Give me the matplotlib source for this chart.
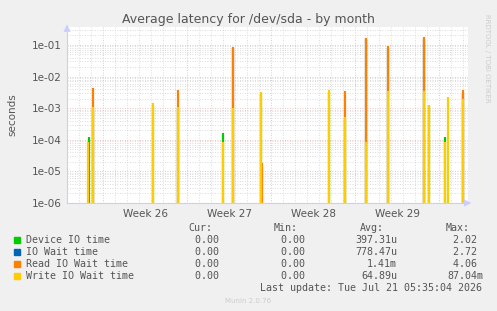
import numpy as np
import matplotlib.pyplot as plt
from matplotlib.ticker import FixedLocator, NullFormatter

# spike times, in days from the start of week 26
t_dev = [-1.14, 4.19, 9.97, 13.19, 18.86, 20.19, 27.19, 28.52]
v_dev = [1.2e-4, 1.2e-3, 1.65e-4, 2.8e-3, 3.2e-3, 4.5e-4, 1.2e-3, 1.2e-4]

t_wait = [-0.81, 6.27, 10.83, 21.94, 23.77, 26.77, 29.97]
v_wait = [1.0e-3, 1.0e-3, 8.0e-2, 0.15, 8.0e-2, 0.15, 3.0e-3]

t_read = [-0.81, 6.27, 10.83, 13.25, 20.19, 21.94, 23.77, 26.77, 29.97]
v_read = [4.4e-3, 3.8e-3, 8.9e-2, 1.8e-5, 3.6e-3, 0.17, 9.5e-2, 0.18, 3.8e-3]

t_write = [-1.25, -0.81, 4.19, 6.27, 9.97, 10.83, 13.19, 18.86, 20.19,
           21.94, 23.77, 26.77, 27.19, 28.52, 28.77, 29.97]
v_write = [8.7e-5, 1.07e-3, 1.45e-3, 1.07e-3, 8.7e-5, 1.0e-3, 3.3e-3, 3.8e-3, 5.4e-4,
           8.7e-5, 3.6e-3, 3.6e-3, 1.26e-3, 8.7e-5, 2.2e-3, 2.0e-3]

weeks = ["Week 26", "Week 27", "Week 28", "Week 29"]

names = ["Device IO time", "IO Wait time", "Read IO Wait time", "Write IO Wait time"]
colors = ["#00cc00", "#0066b3", "#ff8000", "#ffcc00"]
cur = ["0.00 ", "0.00 ", "0.00 ", "0.00 "]
mins = ["0.00 ", "0.00 ", "0.00 ", "0.00 "]
avgs = ["397.31u", "778.47u", "1.41m", "64.89u"]
maxs = ["2.02 ", "2.72 ", "4.06 ", "87.04m"]

W, H = 497, 311
fig = plt.figure(figsize=(W / 100, H / 100), dpi=100, facecolor="#f0f0f0")
ax = fig.add_axes([67 / W, 1 - 203 / H, (468 - 67) / W, (203 - 27) / H])
ax.set_facecolor("white")

floor = 1e-6
ax.vlines(t_dev, floor, v_dev, color=colors[0], lw=1.6)
ax.vlines(t_wait, floor, v_wait, color=colors[1], lw=1.6)
ax.vlines(t_read, floor, v_read, color=colors[2], lw=1.6)
ax.vlines(t_write, floor, v_write, color=colors[3], lw=1.6)

ax.set_yscale("log")
ax.set_ylim(1e-6, 0.37)
ax.set_xlim(-3, 30.4)

ax.yaxis.set_major_locator(FixedLocator([1e-6, 1e-5, 1e-4, 1e-3, 1e-2, 1e-1]))
ax.set_yticklabels(["1e-06", "1e-05", "1e-04", "1e-03", "1e-02", "1e-01"])
minor_y = [m * 10.0 ** e for e in range(-6, 0) for m in range(2, 10)]
ax.yaxis.set_minor_locator(FixedLocator(minor_y))
ax.yaxis.set_minor_formatter(NullFormatter())

ax.xaxis.set_major_locator(FixedLocator([3.5, 10.5, 17.5, 24.5]))
ax.set_xticklabels(weeks)

# grid lines by hand: daily gray, weekly red
for d in range(-3, 31):
    c = "#e8b0b0" if d % 7 == 0 else "#d0d0d0"
    ax.axvline(d, color=c, lw=0.6, ls=(0, (1, 2)), zorder=0)
for y in minor_y:
    ax.axhline(y, color="#d0d0d0", lw=0.6, ls=(0, (1, 2)), zorder=0)
for e in range(-5, 0):
    ax.axhline(10.0 ** e, color="#e8b0b0", lw=0.6, ls=(0, (1, 2)), zorder=0)

ax.tick_params(which="both", length=0, labelsize=7.5, colors="#555555", pad=4)
for s in ["top", "right"]:
    ax.spines[s].set_visible(False)
ax.spines["left"].set_color("#ccccff")
ax.spines["bottom"].set_color("#ccccff")
ax.annotate("", xy=(0, 1.03), xytext=(0, 0.98), xycoords="axes fraction",
            arrowprops=dict(arrowstyle="-|>", color="#ccccff", lw=0.8))
ax.annotate("", xy=(1.015, 0), xytext=(0.98, 0), xycoords="axes fraction",
            arrowprops=dict(arrowstyle="-|>", color="#ccccff", lw=0.8))

fig.text(248 / W, 1 - 19 / H, "Average latency for /dev/sda - by month",
         ha="center", va="center", fontsize=9, color="#555555")
fig.text(12 / W, 1 - 115 / H, "seconds", rotation=90, ha="center", va="center",
         fontsize=7.5, color="#555555")
fig.text(487 / W, 1 - 58 / H, "RRDTOOL / TOBI OETIKER", rotation=270,
         ha="center", va="center", fontsize=5, color="#cccccc")

mono = "DejaVu Sans Mono"
fs = 7.2
tc = "#555555"
hy = 228
for x, h in [(212, "Cur:"), (298, "Min:"), (384, "Avg:"), (470, "Max:")]:
    fig.text(x / W, 1 - hy / H, h, ha="right", va="center", family=mono, fontsize=fs, color=tc)
for i, name in enumerate(names):
    y = 240 + 12 * i
    fig.patches.append(plt.Rectangle((14 / W, 1 - (y + 3) / H), 6 / W, 6 / H,
                                     transform=fig.transFigure, color=colors[i]))
    fig.text(26 / W, 1 - y / H, name, ha="left", va="center", family=mono, fontsize=fs, color=tc)
    fig.text(225 / W, 1 - y / H, cur[i], ha="right", va="center", family=mono, fontsize=fs, color=tc)
    fig.text(311 / W, 1 - y / H, mins[i], ha="right", va="center", family=mono, fontsize=fs, color=tc)
    fig.text(397 / W, 1 - y / H, avgs[i], ha="right", va="center", family=mono, fontsize=fs, color=tc)
    fig.text(483 / W, 1 - y / H, maxs[i], ha="right", va="center", family=mono, fontsize=fs, color=tc)
fig.text(482 / W, 1 - 288 / H, "Last update: Tue Jul 21 05:35:04 2026", ha="right",
         va="center", family=mono, fontsize=fs, color=tc)
fig.text(248 / W, 1 - 301 / H, "Munin 2.0.76", ha="center", va="center",
         fontsize=5, color="#cccccc")

fig.savefig("out.png", dpi=100, facecolor=fig.get_facecolor())
